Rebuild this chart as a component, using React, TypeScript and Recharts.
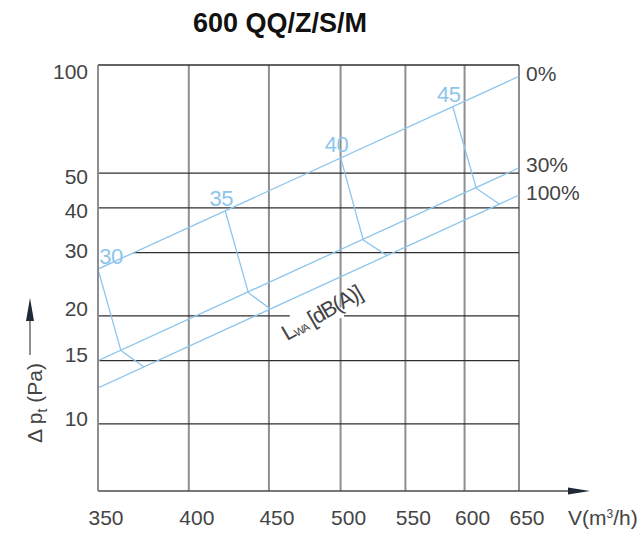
import React from 'react';
import { LineChart, Line, XAxis, YAxis, ReferenceLine, ReferenceDot } from 'recharts';

const FONT = '"Liberation Sans", Arial, Helvetica, sans-serif';
const BLUE = '#8dc5ec';
const TEXT = '#444444';
const GRID_V = '#8e8e92';
const GRID_H = '#2e2e2e';

// axis ticks
const xTicks = [350, 400, 450, 500, 550, 600, 650];
const yTicks = [10, 15, 20, 30, 40, 50, 100];
const yMin = 6.5;

// damper position lines, pressure at 350 and 650 m³/h
const flowRange = [350, 650];
const damperNames = ['0%', '30%', '100%'];
const damperStart = [27, 15, 12.6];
const damperEnd = [93, 51.7, 43.4];

// sound power contours (dB(A)), crossing 0% / 30% / 100% lines
const soundLevels = ['30', '35', '40', '45'];
const soundFlow = [
  [350, 362, 374.5],
  [422, 436.6, 450.3],
  [500, 517, 535.6],
  [589.6, 610.5, 631.4],
];
const soundPressure = [
  [27, 16.0, 14.4],
  [39.2, 23.2, 21.0],
  [55.3, 32.5, 29.4],
  [76.6, 45.3, 41.0],
];

// where the grid is broken around the labels
const hGaps: Record<number, number[]> = { 20: [464, 502.5], 30: [350, 368.5] };
const vGaps: Record<number, number[]> = { 500: [19.7, 21.1] };

// small vertical nudges for the y tick labels (px)
const yTickNudge: Record<number, number> = { 100: 6.5, 50: 3.5, 40: 2.5, 30: -2, 20: -7.5, 15: -6.5, 10: -5.5 };

const damperSeries = damperNames.map((name, i) => ({
  name,
  points: [
    { v: flowRange[0], p: damperStart[i] },
    { v: flowRange[1], p: damperEnd[i] },
  ],
}));

const soundSeries = soundLevels.map((name, i) => ({
  name,
  points: soundFlow[i].map((v, j) => ({ v, p: soundPressure[i][j] })),
}));

// split a grid line into pieces, leaving out the gap
const pieces = (from: number, to: number, gap?: number[]) => {
  if (!gap) return [[from, to]];
  return [[from, gap[0]], [gap[1], to]].filter(([a, b]) => b > a);
};

const XTick = (props: any) => {
  const { x, y, payload } = props;
  return (
    <text x={x + 8} y={y + 34} textAnchor="middle" fontSize={21} fill={TEXT} fontFamily={FONT}>
      {payload.value}
    </text>
  );
};

const YTick = (props: any) => {
  const { x, y, payload } = props;
  return (
    <text
      x={x - 10}
      y={y + (yTickNudge[payload.value] ?? 0)}
      textAnchor="end"
      dominantBaseline="central"
      fontSize={21}
      fill={TEXT}
      fontFamily={FONT}
    >
      {payload.value}
    </text>
  );
};

const XDecor = (props: any) => {
  const { x, y, width } = props.viewBox;
  const end = x + width;
  return (
    <g>
      <line x1={x} y1={y} x2={end + 52} y2={y} stroke="#4a4a4a" strokeWidth={1.5} />
      <polygon points={`${end + 49},${y - 3.5} ${end + 71},${y} ${end + 49},${y + 3.5}`} fill="#1f2a36" />
      <text x={end + 49} y={y + 34} fontSize={21} fill={TEXT} fontFamily={FONT}>
        V(m<tspan dy={-7} fontSize={12}>3</tspan>
        <tspan dy={7}>/h)</tspan>
      </text>
    </g>
  );
};

const YDecor = (props: any) => {
  const { x, y, height } = props.viewBox;
  const bottom = y + height;
  const tx = x + 42;
  const ty = bottom - 88;
  const ax = x + 30;
  return (
    <g>
      <text
        x={tx}
        y={ty}
        transform={`rotate(-90 ${tx} ${ty})`}
        textAnchor="middle"
        fontSize={21}
        fill={TEXT}
        fontFamily={FONT}
      >
        Δ p<tspan dy={5} fontSize={14}>t</tspan>
        <tspan dy={-5}> (Pa)</tspan>
      </text>
      <line x1={ax} y1={bottom - 136} x2={ax} y2={bottom - 172} stroke="#555" strokeWidth={1.3} />
      <polygon points={`${ax - 4},${bottom - 170} ${ax},${bottom - 193} ${ax + 4},${bottom - 170}`} fill="#1f2a36" />
    </g>
  );
};

const DamperLabel = (name: string) => (props: any) => (
  <text
    x={props.cx + 7}
    y={props.cy - 3}
    dominantBaseline="central"
    fontSize={21}
    fill={TEXT}
    fontFamily={FONT}
  >
    {name}
  </text>
);

const SoundLabel = (name: string) => (props: any) => (
  <text
    x={Math.max(props.cx - 4, 111)}
    y={props.cy - 5}
    textAnchor="middle"
    fontSize={22}
    letterSpacing={-0.5}
    fill={BLUE}
    fontFamily={FONT}
  >
    {name}
  </text>
);

const LwaLabel = (props: any) => {
  const { cx, cy } = props;
  return (
    <text
      x={cx}
      y={cy}
      transform={`rotate(-30 ${cx} ${cy})`}
      textAnchor="middle"
      dominantBaseline="central"
      fontSize={22}
      letterSpacing={-1.5}
      fill={TEXT}
      fontFamily={FONT}
    >
      L<tspan dy={5} fontSize={11}>WA</tspan>
      <tspan dy={-5}> [dB(A)]</tspan>
    </text>
  );
};

export default function App() {
  return (
    <div style={{ position: 'relative', width: 643, height: 540, background: '#fff' }}>
      <style>{'body{margin:0}'}</style>
      <svg width={643} height={50} style={{ position: 'absolute', left: 0, top: 0 }}>
        <text x={280} y={32} textAnchor="middle" fontSize={27} fontWeight="bold" fill="#111" fontFamily={FONT}>
          600 QQ/Z/S/M
        </text>
      </svg>
      <LineChart width={643} height={540} margin={{ top: 65, right: 124, bottom: 0, left: 0 }}>
        <XAxis
          dataKey="v"
          type="number"
          scale="log"
          domain={[350, 650]}
          ticks={xTicks}
          allowDataOverflow
          height={49}
          axisLine={false}
          tickLine={false}
          tickSize={0}
          tickMargin={0}
          tick={<XTick />}
          label={(p: any) => <XDecor {...p} />}
        />
        <YAxis
          type="number"
          scale="log"
          domain={[yMin, 100]}
          ticks={yTicks}
          allowDataOverflow
          width={98}
          axisLine={{ stroke: GRID_V, strokeWidth: 2 }}
          tickLine={false}
          tickSize={0}
          tickMargin={0}
          tick={<YTick />}
          label={(p: any) => <YDecor {...p} />}
        />

        {xTicks.slice(1).flatMap((v) =>
          pieces(yMin, 100, vGaps[v]).map(([a, b], k) => (
            <ReferenceLine
              key={`v-${v}-${k}`}
              segment={[{ x: v, y: a }, { x: v, y: b }]}
              stroke={GRID_V}
              strokeWidth={2}
            />
          ))
        )}
        {yTicks.flatMap((p) =>
          pieces(350, 650, hGaps[p]).map(([a, b], k) => (
            <ReferenceLine
              key={`h-${p}-${k}`}
              segment={[{ x: a, y: p }, { x: b, y: p }]}
              stroke={GRID_H}
              strokeWidth={1.3}
            />
          ))
        )}

        {damperSeries.map((s) => (
          <Line
            key={`d-${s.name}`}
            data={s.points}
            dataKey="p"
            type="linear"
            stroke={BLUE}
            strokeWidth={1.3}
            dot={false}
            activeDot={false}
            isAnimationActive={false}
          />
        ))}
        {soundSeries.map((s) => (
          <Line
            key={`s-${s.name}`}
            data={s.points}
            dataKey="p"
            type="linear"
            stroke={BLUE}
            strokeWidth={1.3}
            dot={false}
            activeDot={false}
            isAnimationActive={false}
          />
        ))}

        {damperSeries.map((s) => (
          <ReferenceDot
            key={`dl-${s.name}`}
            x={s.points[1].v}
            y={s.points[1].p}
            r={0}
            ifOverflow="visible"
            shape={DamperLabel(s.name)}
          />
        ))}
        {soundSeries.map((s) => (
          <ReferenceDot
            key={`sl-${s.name}`}
            x={s.points[0].v}
            y={s.points[0].p}
            r={0}
            ifOverflow="visible"
            shape={SoundLabel(s.name)}
          />
        ))}
        <ReferenceDot x={486} y={20.4} r={0} ifOverflow="visible" shape={LwaLabel} />
      </LineChart>
    </div>
  );
}
